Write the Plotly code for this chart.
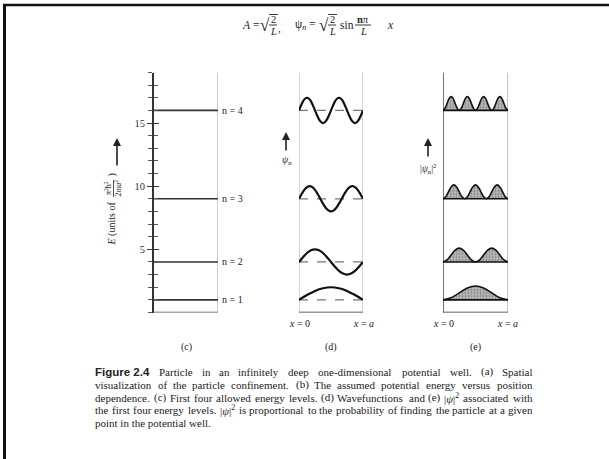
import plotly.graph_objects as go

W, H = 609, 459
def px(x): return x / W
def py(y): return 1 - y / H

# ---------------- data ----------------
levels_n = [1, 2, 3, 4]
energies = [1, 4, 9, 16]              # E in units of pi^2 hbar^2 / 2ma^2
level_labels = ["n = 1", "n = 2", "n = 3", "n = 4"]
e_ticks = [5, 10, 15]
e_range = [0, 19]
psi_amp = 1.0                          # wavefunction amplitude (energy units, as drawn)
prob_amp = 1.1                         # |psi|^2 peak height (energy units, as drawn)
psi_lobe = [0, 0.38, 0.71, 0.92, 1.0, 0.92, 0.71, 0.38, 0]
prob_lobe = [0, 0.15, 0.50, 0.85, 1.0, 0.85, 0.50, 0.15, 0]

caption_lines = [
    "Particle in an infinitely deep one-dimensional potential well. (a) Spatial",
    "visualization of the particle confinement. (b) The assumed potential energy versus position",
    "dependence. (c) First four allowed energy levels. (d) Wavefunctions and (e) |ψ|² associated with",
    "the first four energy levels. |ψ|² is proportional to the probability of finding the particle at a given",
    "point in the potential well.",
]

SERIF = "Liberation Serif"
SANS = "Liberation Sans"
INK = "#222"

def build(n, lobe, alternate):
    xs, ys = [], []
    m = len(lobe) - 1
    for k in range(n):
        sgn = -1 if (alternate and k % 2) else 1
        for i, v in enumerate(lobe):
            if k > 0 and i == 0:
                continue
            xs.append((k + i / m) / n)
            ys.append(sgn * v)
    return xs, ys

fig = go.Figure()

def line(x, y, xa, ya, color, width, dash="solid"):
    fig.add_trace(go.Scatter(x=x, y=y, xaxis=xa, yaxis=ya, mode="lines",
                             line=dict(color=color, width=width, dash=dash),
                             hoverinfo="skip", showlegend=False))

# ---- panel (c): energy levels ----
line([1, 1], e_range, "x", "y", "#9a9a9a", 1)
line([0, 1], [0, 0], "x", "y", "#555", 1.5)
for E in energies:
    line([0, 1], [E, E], "x", "y", "#333", 1.6)
fig.add_trace(go.Scatter(x=[0], y=[0], xaxis="x", yaxis="y4", mode="markers",
                         marker=dict(opacity=0), hoverinfo="skip", showlegend=False))

# ---- panel (d): wavefunctions ----
line([0, 0], e_range, "x2", "y2", "#a8a8a8", 1)
line([1, 1], e_range, "x2", "y2", "#a8a8a8", 1)
line([0, 1], [0, 0], "x2", "y2", "#333", 1.5)
for n, E in zip(levels_n, energies):
    line([0, 1], [E, E], "x2", "y2", "#777", 1.2, "dash")
    xs, ys = build(n, psi_lobe, True)
    fig.add_trace(go.Scatter(x=xs, y=[E + psi_amp * v for v in ys], xaxis="x2", yaxis="y2",
                             mode="lines", line=dict(color="#111", width=2.2, shape="spline"),
                             hoverinfo="skip", showlegend=False))

# ---- panel (e): probability densities ----
line([0, 0], e_range, "x3", "y3", "#444", 1.5)
line([1, 1], e_range, "x3", "y3", "#8a8a8a", 1)
line([0, 1], [0, 0], "x3", "y3", "#333", 1.5)
for n, E in zip(levels_n, energies):
    line([0, 1], [E, E], "x3", "y3", "#111", 1.6)
    xs, ys = build(n, prob_lobe, False)
    fig.add_trace(go.Scatter(x=xs, y=[E + prob_amp * v for v in ys], xaxis="x3", yaxis="y3",
                             mode="lines", line=dict(color="#111", width=1.6, shape="spline"),
                             fill="tonexty", fillcolor="#a8a8a8",
                             fillpattern=dict(shape=".", fgcolor="#444", bgcolor="#bdbdbd",
                                              size=3, solidity=0.4),
                             hoverinfo="skip", showlegend=False))

ydom = [py(312.5), py(72.5)]
hidden = dict(visible=False, showgrid=False, zeroline=False)
fig.update_layout(
    width=W, height=H, margin=dict(l=0, r=0, t=0, b=0),
    paper_bgcolor="white", plot_bgcolor="rgba(0,0,0,0)",
    xaxis=dict(domain=[px(154), px(218)], range=[0, 1], anchor="y", **hidden),
    yaxis=dict(domain=ydom, range=e_range, anchor="x", showgrid=False, zeroline=False,
               showline=True, linecolor="#333", linewidth=1.6,
               ticks="outside", ticklen=5, tickwidth=1.2, tickcolor="#333",
               tickvals=e_ticks, ticktext=[str(v) for v in e_ticks],
               tickfont=dict(family=SERIF, size=10.5, color="#333"),
               minor=dict(dtick=1, tick0=0, ticks="outside", ticklen=4, tickcolor="#555",
                          tickwidth=1, showgrid=False)),
    yaxis4=dict(overlaying="y", range=e_range, anchor="x", side="left", showgrid=False,
                zeroline=False, showline=False, showticklabels=False,
                ticks="inside", ticklen=5, tickwidth=1.2, tickcolor="#333", tickvals=e_ticks,
                minor=dict(dtick=1, tick0=0, ticks="inside", ticklen=4, tickcolor="#555",
                           tickwidth=1, showgrid=False)),
    xaxis2=dict(domain=[px(299), px(363)], range=[0, 1], anchor="y2", **hidden),
    yaxis2=dict(domain=ydom, range=e_range, anchor="x2", **hidden),
    xaxis3=dict(domain=[px(443), px(508)], range=[0, 1], anchor="y3", **hidden),
    yaxis3=dict(domain=ydom, range=e_range, anchor="x3", **hidden),
)

ann = []
def text(x, y, t, size=10, font=SERIF, xanchor="center", yanchor="middle", angle=0, color=INK,
         xref="paper", yref="paper", pad=1):
    ann.append(dict(x=px(x) if xref == "paper" else x, y=py(y) if yref == "paper" else y,
                    xref=xref, yref=yref, text=t, showarrow=False, xanchor=xanchor,
                    yanchor=yanchor, textangle=angle, borderpad=pad, borderwidth=0,
                    font=dict(family=font, size=size, color=color)))

# level labels
for lab, E in zip(level_labels, energies):
    text(1.04, E, lab, size=10, xanchor="left", xref="x domain", yref="y")

# x labels
text(299, 323, "<i>x</i> = 0", 10)
text(363, 323, "<i>x</i> = <i>a</i>", 10)
text(443, 323, "<i>x</i> = 0", 10)
text(507, 323, "<i>x</i> = <i>a</i>", 10)

# panel labels
text(186, 347, "(c)", 10)
text(331, 347, "(d)", 10)
text(475, 347, "(e)", 10)

def arrow(x, y_head, y_tail):
    ann.append(dict(x=px(x), y=py(y_head), xref="paper", yref="paper", text="",
                    showarrow=True, ax=0, ay=y_tail - y_head, axref="pixel", ayref="pixel",
                    arrowhead=2, arrowsize=1, arrowwidth=1.6, arrowcolor=INK))

arrow(286, 132, 152)
text(287, 160, "<i>ψ</i><sub>n</sub>", 10)
arrow(428, 138, 158)
text(428, 168, "|<i>ψ</i><sub>n</sub>|<sup>2</sup>", 9.5)

arrow(117, 138, 167)
text(111.5, 224, "<i>E</i> (units of", 10, angle=-90)
text(113.5, 188, "π<sup>2</sup>ħ<sup>2</sup><br>2<i>ma</i><sup>2</sup>", 8, angle=-90)
text(111.5, 175, ")", 10, angle=-90)

# top formula
text(241, 25, "<i>A</i> =", 11.5, xanchor="left")
text(265, 26, "√", 17)
text(273, 19.5, "2", 10.5)
text(273, 31, "<i>L</i>", 10.5)
text(279.5, 28, ",", 11)
text(294, 25, "ψ<sub><i>n</i></sub> =", 11.5, xanchor="left")
text(324, 26, "√", 17)
text(332, 19.5, "2", 10.5)
text(332, 31, "<i>L</i>", 10.5)
text(339, 25, "sin", 11.5, xanchor="left")
text(363, 19.5, "<b>n</b>π", 10.5)
text(363, 31, "<i>L</i>", 10.5)
text(390, 25, "<i>x</i>", 11.5)

shapes = [
    dict(type="line", xref="paper", yref="paper", x0=px(3), x1=px(609), y0=py(5), y1=py(5),
         line=dict(color="#111", width=2.5)),
    dict(type="line", xref="paper", yref="paper", x0=px(4.5), x1=px(4.5), y0=py(4), y1=py(459),
         line=dict(color="#111", width=3)),
]
for x0, x1 in ((269, 277), (328, 336), (355, 371)):
    shapes.append(dict(type="line", xref="paper", yref="paper", x0=px(x0), x1=px(x1),
                       y0=py(25), y1=py(25), line=dict(color=INK, width=0.9)))
for x0, x1 in ((269, 278), (328, 337)):
    shapes.append(dict(type="line", xref="paper", yref="paper", x0=px(x0), x1=px(x1),
                       y0=py(14.5), y1=py(14.5), line=dict(color=INK, width=0.9)))
shapes.append(dict(type="line", xref="paper", yref="paper", x0=px(113.5), x1=px(113.5),
                   y0=py(180), y1=py(197), line=dict(color=INK, width=0.8)))

# caption, justified by word placement (Times metrics)
TW = {' ': 250, ',': 250, '.': 250, '(': 333, ')': 333, '-': 333, '|': 200, 'ψ': 686, '²': 350,
      'a': 444, 'b': 500, 'c': 444, 'd': 500, 'e': 444, 'f': 333, 'g': 500, 'h': 500, 'i': 278,
      'j': 278, 'k': 500, 'l': 278, 'm': 778, 'n': 500, 'o': 500, 'p': 500, 'q': 500, 'r': 333,
      's': 389, 't': 278, 'u': 500, 'v': 500, 'w': 722, 'x': 500, 'y': 500, 'z': 444,
      'P': 556, 'S': 556, 'T': 611, 'W': 944, 'F': 556}
CFS = 11
def tw(s):
    return sum(TW.get(c, 500) for c in s) * CFS / 1000 * 1.03
def html(s):
    return s.replace("|ψ|²", "|<i>ψ</i>|<sup>2</sup>")

left, right = 95, 533
ys_cap = [371.5, 384.5, 397.5, 410, 422.5]
for li, (s, yy) in enumerate(zip(caption_lines, ys_cap)):
    words = s.split(" ")
    start = left
    if li == 0:
        text(left, yy, "<b>Figure 2.4</b>", 11.5, font=SANS, xanchor="left", pad=0)
        start = left + 64
    if li == len(caption_lines) - 1:
        text(start, yy, html(s), CFS, xanchor="left", pad=0)
        continue
    widths = [tw(w) for w in words]
    gap = (right - start - sum(widths)) / (len(words) - 1)
    xcur = start
    for k, w in enumerate(words):
        if k == len(words) - 1:
            text(right, yy, html(w), CFS, xanchor="right", pad=0)
        else:
            text(xcur, yy, html(w), CFS, xanchor="left", pad=0)
        xcur += widths[k] + gap

fig.update_layout(annotations=ann, shapes=shapes)
fig.write_html("out.html")
